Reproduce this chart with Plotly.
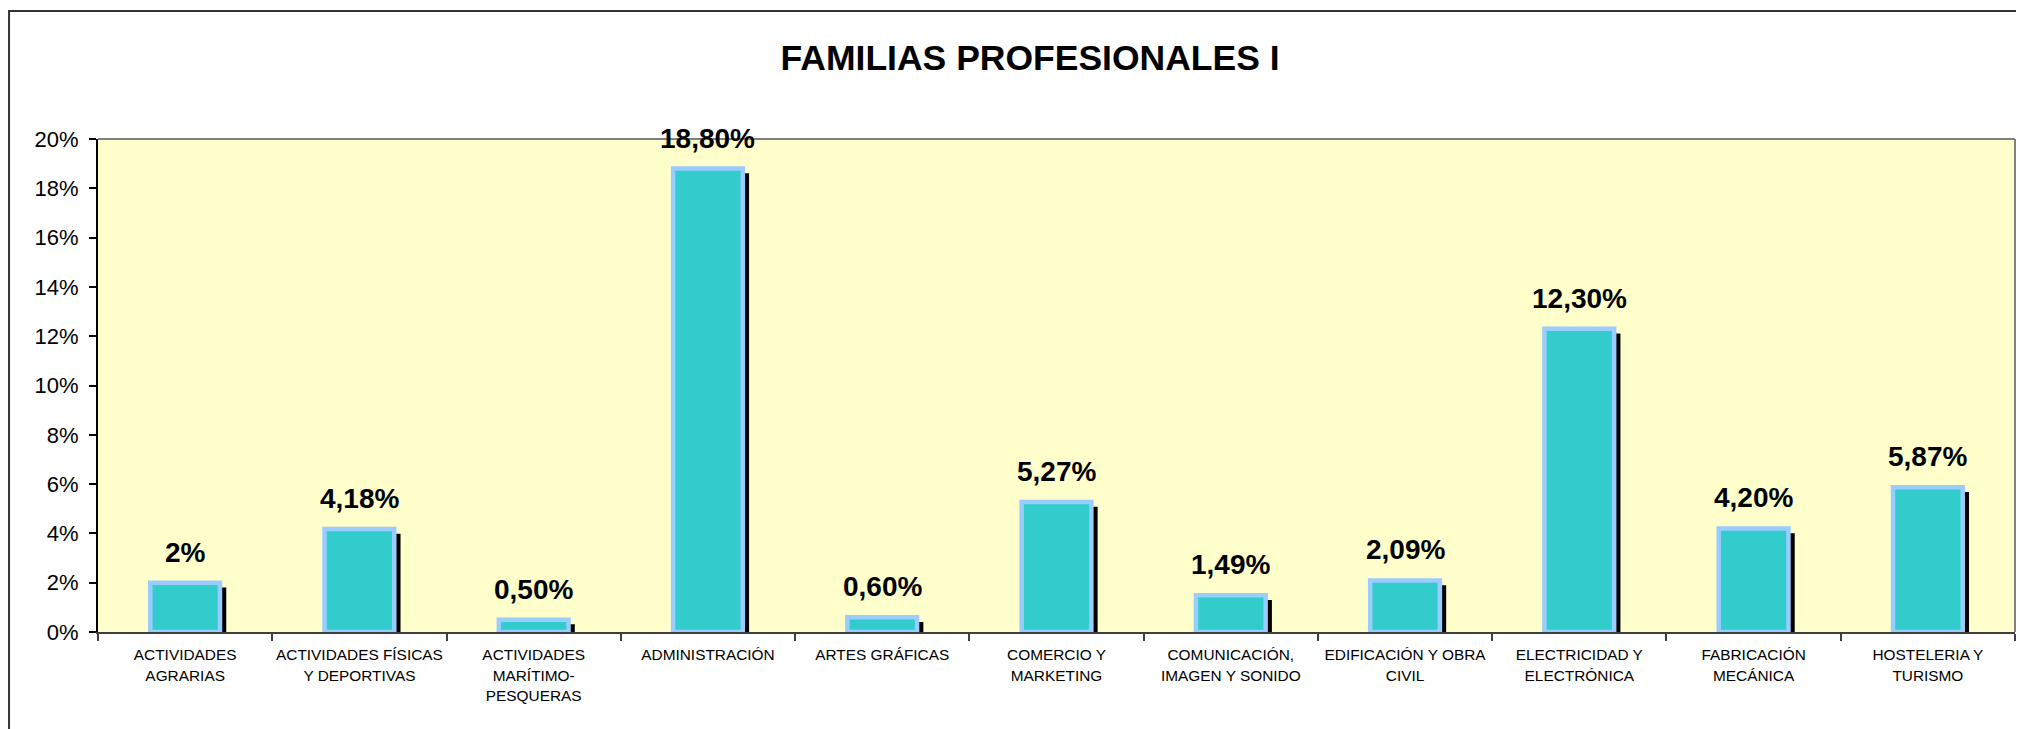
import plotly.graph_objects as go

categories = [
    "ACTIVIDADES<br>AGRARIAS",
    "ACTIVIDADES FÍSICAS<br>Y DEPORTIVAS",
    "ACTIVIDADES<br>MARÍTIMO-<br>PESQUERAS",
    "ADMINISTRACIÓN",
    "ARTES GRÁFICAS",
    "COMERCIO Y<br>MARKETING",
    "COMUNICACIÓN,<br>IMAGEN Y SONIDO",
    "EDIFICACIÓN Y OBRA<br>CIVIL",
    "ELECTRICIDAD Y<br>ELECTRÓNICA",
    "FABRICACIÓN<br>MECÁNICA",
    "HOSTELERIA Y<br>TURISMO",
]
values = [2.0, 4.18, 0.50, 18.80, 0.60, 5.27, 1.49, 2.09, 12.30, 4.20, 5.87]
value_labels = ["2%", "4,18%", "0,50%", "18,80%", "0,60%", "5,27%", "1,49%",
                "2,09%", "12,30%", "4,20%", "5,87%"]
y_ticks = [0, 2, 4, 6, 8, 10, 12, 14, 16, 18, 20]
y_tick_labels = [f"{t}%" for t in y_ticks]

FONT = "Liberation Sans, Arial, sans-serif"
SHADOW_DROP = 0.19  # shadow sits a few px lower than the bar top

fig = go.Figure()

# shadow bars (black strip to the right of each bar)
fig.add_trace(go.Bar(
    x=categories, y=[v - SHADOW_DROP for v in values],
    width=0.4, offset=-0.164,
    marker=dict(color="#000000", line=dict(width=0)),
    hoverinfo="skip", showlegend=False,
))
# main bars
fig.add_trace(go.Bar(
    x=categories, y=values,
    width=0.4, offset=-0.2,
    marker=dict(color="#33CCCC", line=dict(color="#99CCFF", width=4.5)),
    showlegend=False,
))

for c, v, t in zip(categories, values, value_labels):
    fig.add_annotation(
        x=c, y=v, text=f"<b>{t}</b>", showarrow=False, yanchor="bottom", yshift=13,
        font=dict(family=FONT, size=28, color="#000000"),
    )

# plot area frame (top/right grey)
fig.add_shape(type="line", xref="paper", yref="paper", x0=0, x1=1, y0=1, y1=1,
              line=dict(color="#808080", width=2))
fig.add_shape(type="line", xref="paper", yref="paper", x0=1, x1=1, y0=0, y1=1,
              line=dict(color="#808080", width=2))
# outer chart border
fig.add_shape(type="rect", xref="paper", yref="paper", x0=-0.0464, x1=1.05,
              y0=-0.4, y1=1.2596, line=dict(color="#333333", width=2),
              fillcolor="rgba(0,0,0,0)", layer="below")

fig.update_layout(
    width=2024, height=729,
    margin=dict(l=90, r=17, t=131, b=105),
    paper_bgcolor="#FFFFFF",
    plot_bgcolor="#FFFFCC",
    barmode="overlay",
    font=dict(family=FONT, color="#000000"),
    title=dict(text="<b>FAMILIAS PROFESIONALES I</b>", x=0.505, xanchor="center",
               y=0.932, yanchor="middle",
               font=dict(family=FONT, size=35.5, color="#000000")),
    xaxis=dict(
        tickson="boundaries", ticks="outside", ticklen=7, tickwidth=1.5,
        tickcolor="#404040", showline=True, linecolor="#404040", linewidth=2,
        showgrid=False, tickfont=dict(family=FONT, size=15.4, color="#000000"),
        tickangle=0, fixedrange=True, ticklabelstandoff=8,
    ),
    yaxis=dict(
        range=[0, 20], tickvals=y_ticks, ticktext=y_tick_labels,
        ticks="outside", ticklen=7, tickwidth=1.5, tickcolor="#000000",
        showline=True, linecolor="#000000", linewidth=2, showgrid=False,
        zeroline=False, tickfont=dict(family=FONT, size=22, color="#000000"),
        ticklabelstandoff=6, fixedrange=True,
    ),
)

fig.write_html("out.html")
